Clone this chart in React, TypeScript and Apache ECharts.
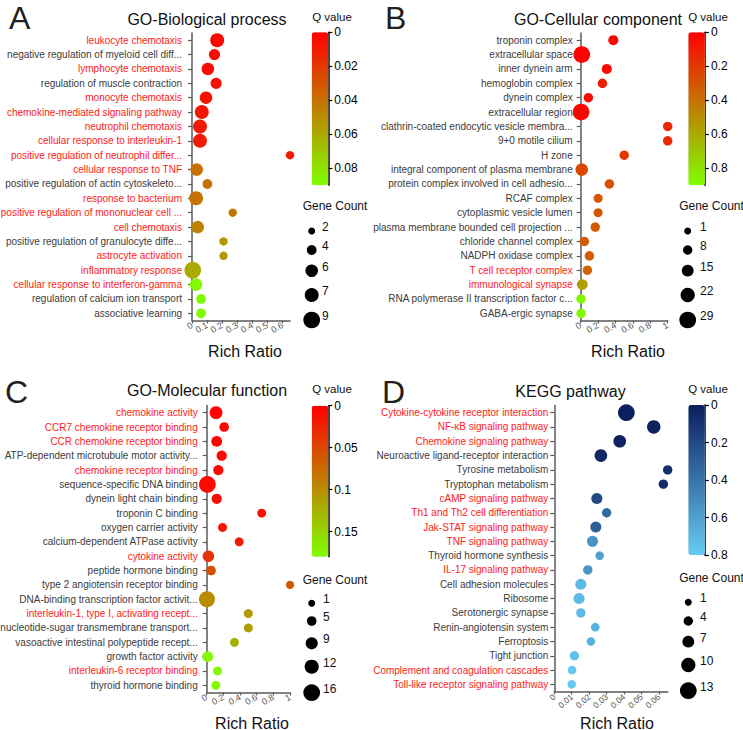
import React, { useEffect, useRef } from 'react';
import * as echarts from 'echarts';

// ---------- Panel A: GO-Biological process ----------
const termsA = [
  'leukocyte chemotaxis',
  'negative regulation of myeloid cell diff...',
  'lymphocyte chemotaxis',
  'regulation of muscle contraction',
  'monocyte chemotaxis',
  'chemokine-mediated signaling pathway',
  'neutrophil chemotaxis',
  'cellular response to interleukin-1',
  'positive regulation of neutrophil differ...',
  'cellular response to TNF',
  'positive regulation of actin cytoskeleto...',
  'response to bacterium',
  'positive regulation of mononuclear cell ...',
  'cell chemotaxis',
  'positive regulation of granulocyte diffe...',
  'astrocyte activation',
  'inflammatory response',
  'cellular response to interferon-gamma',
  'regulation of calcium ion transport',
  'associative learning',
];
const ratioA = [0.167, 0.149, 0.105, 0.16, 0.093, 0.065, 0.053, 0.053, 0.65, 0.031, 0.102, 0.027, 0.27, 0.038, 0.209, 0.209, 0.005, 0.027, 0.06, 0.06];
const qA = [0.002, 0.004, 0.005, 0.006, 0.007, 0.008, 0.009, 0.01, 0.01, 0.039, 0.04, 0.04, 0.042, 0.045, 0.055, 0.055, 0.06, 0.088, 0.089, 0.089];
const countA = [7, 5, 6, 5, 6, 7, 7, 7, 3, 6, 4, 7, 3, 6, 3, 3, 9, 6, 4, 4];
const redA = [
  'leukocyte chemotaxis', 'lymphocyte chemotaxis', 'monocyte chemotaxis', 'chemokine-mediated signaling pathway',
  'neutrophil chemotaxis', 'cellular response to interleukin-1', 'positive regulation of neutrophil differ...',
  'cellular response to TNF', 'response to bacterium', 'positive regulation of mononuclear cell ...',
  'cell chemotaxis', 'astrocyte activation', 'inflammatory response', 'cellular response to interferon-gamma',
];
const legendCountA = [2, 4, 6, 7, 9];

// ---------- Panel B: GO-Cellular component ----------
const termsB = [
  'troponin complex',
  'extracellular space',
  'inner dynein arm',
  'hemoglobin complex',
  'dynein complex',
  'extracellular region',
  'clathrin-coated endocytic vesicle membra...',
  '9+0 motile cilium',
  'H zone',
  'integral component of plasma membrane',
  'protein complex involved in cell adhesio...',
  'RCAF complex',
  'cytoplasmic vesicle lumen',
  'plasma membrane bounded cell projection ...',
  'chloride channel complex',
  'NADPH oxidase complex',
  'T cell receptor complex',
  'immunological synapse',
  'RNA polymerase II transcription factor c...',
  'GABA-ergic synapse',
];
const ratioB = [0.375, 0.012, 0.3, 0.25, 0.088, 0.004, 1.0, 1.0, 0.5, 0.012, 0.33, 0.2, 0.2, 0.167, 0.042, 0.1, 0.077, 0.019, 0.004, 0.004];
const qB = [0.02, 0.01, 0.03, 0.1, 0.05, 0.02, 0.14, 0.14, 0.2, 0.25, 0.28, 0.3, 0.3, 0.32, 0.32, 0.32, 0.35, 0.56, 0.88, 0.88];
const countB = [10, 29, 10, 8, 8, 29, 8, 8, 8, 17, 8, 7, 7, 8, 8, 8, 8, 12, 8, 8];
const redB = ['T cell receptor complex', 'immunological synapse'];
const legendCountB = [1, 8, 15, 22, 29];

// ---------- Panel C: GO-Molecular function ----------
const termsC = [
  'chemokine activity',
  'CCR7 chemokine receptor binding',
  'CCR chemokine receptor binding',
  'ATP-dependent microtubule motor activity...',
  'chemokine receptor binding',
  'sequence-specific DNA binding',
  'dynein light chain binding',
  'troponin C binding',
  'oxygen carrier activity',
  'calcium-dependent ATPase activity',
  'cytokine activity',
  'peptide hormone binding',
  'type 2 angiotensin receptor binding',
  'DNA-binding transcription factor activit...',
  'interleukin-1, type I, activating recept...',
  'nucleotide-sugar transmembrane transport...',
  'vasoactive intestinal polypeptide recept...',
  'growth factor activity',
  'interleukin-6 receptor binding',
  'thyroid hormone binding',
];
const ratioC = [0.112, 0.21, 0.12, 0.18, 0.14, 0.008, 0.12, 0.66, 0.19, 0.39, 0.02, 0.052, 1.0, 0.003, 0.5, 0.5, 0.333, 0.012, 0.13, 0.11];
const qC = [0.002, 0.004, 0.003, 0.006, 0.005, 0.008, 0.01, 0.012, 0.015, 0.02, 0.035, 0.055, 0.065, 0.1, 0.11, 0.11, 0.125, 0.175, 0.175, 0.175];
const countC = [10, 5, 7, 6, 6, 16, 6, 4, 4, 4, 8, 5, 3, 15, 4, 4, 4, 7, 4, 4];
const redC = [
  'chemokine activity', 'CCR7 chemokine receptor binding', 'CCR chemokine receptor binding',
  'chemokine receptor binding', 'cytokine activity', 'interleukin-1, type I, activating recept...',
  'interleukin-6 receptor binding',
];
const legendCountC = [1, 5, 9, 12, 16];

// ---------- Panel D: KEGG pathway ----------
const termsD = [
  'Cytokine-cytokine receptor interaction',
  'NF-κB signaling pathway',
  'Chemokine signaling pathway',
  'Neuroactive ligand-receptor interaction',
  'Tyrosine metabolism',
  'Tryptophan metabolism',
  'cAMP signaling pathway',
  'Th1 and Th2 cell differentiation',
  'Jak-STAT signaling pathway',
  'TNF signaling pathway',
  'Thyroid hormone synthesis',
  'IL-17 signaling pathway',
  'Cell adhesion molecules',
  'Ribosome',
  'Serotonergic synapse',
  'Renin-angiotensin system',
  'Ferroptosis',
  'Tight junction',
  'Complement and coagulation cascades',
  'Toll-like receptor signaling pathway',
];
const ratioD = [0.0413, 0.057, 0.0375, 0.0267, 0.065, 0.0625, 0.0244, 0.03, 0.0238, 0.0219, 0.026, 0.0192, 0.0152, 0.0142, 0.0152, 0.0235, 0.021, 0.0115, 0.0102, 0.01];
const qD = [0.01, 0.02, 0.03, 0.05, 0.08, 0.07, 0.2, 0.35, 0.3, 0.55, 0.6, 0.55, 0.72, 0.72, 0.72, 0.68, 0.68, 0.75, 0.78, 0.78];
const countD = [13, 9, 8, 8, 4, 4, 6, 4, 6, 6, 3, 4, 6, 6, 4, 3, 3, 4, 3, 3];
const redD = [
  'Cytokine-cytokine receptor interaction', 'NF-κB signaling pathway', 'Chemokine signaling pathway',
  'cAMP signaling pathway', 'Th1 and Th2 cell differentiation', 'Jak-STAT signaling pathway',
  'TNF signaling pathway', 'IL-17 signaling pathway', 'Complement and coagulation cascades',
  'Toll-like receptor signaling pathway',
];
const legendCountD = [1, 4, 7, 10, 13];

const FONT = '"Liberation Sans", Arial, sans-serif';
const RED = '#ff1a1a';
const GRAY = '#3c3c3c';
const AX = '#5a5a5a';
const DMIN = 7;
const DMAX = 16.7;

function sizeFor(c: number, legend: number[]) {
  const a = legend[0];
  const b = legend[legend.length - 1];
  return DMIN + ((c - a) / (b - a)) * (DMAX - DMIN);
}

const panels = [
  {
    letter: 'A', title: 'GO-Biological process',
    terms: termsA, ratio: ratioA, q: qA, count: countA, red: redA, legend: legendCountA,
    xMax: 0.65, xInterval: 0.1, showMax: false, xRotate: 30, xFont: 9, yMargin: 10,
    qMax: 0.09, qInterval: 0.02, qShowMax: false, colors: ['#ff0000', '#80ff00'],
    grid: [192, 33, 98, 287.5], bar: [311.7, 32.3, 16.6, 153],
    letterPos: [9, 18], titlePos: [207, 19], qPos: [332, 17], gcPos: [335, 206], rrPos: [245, 351],
    legX: 311.7, legY: [231, 250, 270.7, 295, 320], legLabelX: 322,
  },
  {
    letter: 'B', title: 'GO-Cellular component',
    terms: termsB, ratio: ratioB, q: qB, count: countB, red: redB, legend: legendCountB,
    xMax: 1, xInterval: 0.2, showMax: true, xRotate: 30, xFont: 9, yMargin: 8,
    qMax: 0.9, qInterval: 0.2, qShowMax: false, colors: ['#ff0000', '#80ff00'],
    grid: [580.7, 33, 87, 287.5], bar: [688.3, 32.3, 16.6, 153],
    letterPos: [385, 18], titlePos: [598, 19], qPos: [708, 17], gcPos: [711.5, 206], rrPos: [628, 351],
    legX: 687.7, legY: [231, 250, 270.7, 295, 320], legLabelX: 700,
  },
  {
    letter: 'C', title: 'GO-Molecular function',
    terms: termsC, ratio: ratioC, q: qC, count: countC, red: redC, legend: legendCountC,
    xMax: 1, xInterval: 0.2, showMax: true, xRotate: 30, xFont: 9, yMargin: 9,
    qMax: 0.18, qInterval: 0.05, qShowMax: false, colors: ['#ff0000', '#80ff00'],
    grid: [206.7, 405.5, 83.3, 287], bar: [311.7, 405.7, 16.6, 151],
    letterPos: [5, 392], titlePos: [207, 390.5], qPos: [332, 389], gcPos: [335, 579.5], rrPos: [252, 723],
    legX: 311.7, legY: [603.3, 621, 643.3, 666.7, 692.7], legLabelX: 323,
  },
  {
    letter: 'D', title: 'KEGG pathway',
    terms: termsD, ratio: ratioD, q: qD, count: countD, red: redD, legend: legendCountD,
    xMax: 0.065, xInterval: 0.01, showMax: false, xRotate: 42, xFont: 8.5, yMargin: 6,
    qMax: 0.8, qInterval: 0.2, qShowMax: true, colors: ['#0b1d5c', '#66ccf4'],
    grid: [554.3, 405.5, 113.4, 286], bar: [688.3, 405, 16.6, 150],
    letterPos: [382, 392], titlePos: [570.5, 391], qPos: [708, 389], gcPos: [711.5, 577.5], rrPos: [617, 723],
    legX: 688.3, legY: [602.3, 621, 641.7, 665, 690.7], legLabelX: 700,
  },
];

function buildOption() {
  const grid: any[] = [];
  const xAxis: any[] = [];
  const yAxis: any[] = [];
  const series: any[] = [];
  const visualMap: any[] = [];
  const elements: any[] = [];

  panels.forEach((p, i) => {
    const gi = grid.length;
    grid.push({ left: p.grid[0], top: p.grid[1], width: p.grid[2], height: p.grid[3], containLabel: false, outerBoundsMode: 'none' });
    xAxis.push({
      gridIndex: gi, type: 'value', min: 0, max: p.xMax, interval: p.xInterval,
      axisLine: { show: true, onZero: false, lineStyle: { color: AX, width: 1.5 } },
      axisTick: { show: true, length: 3, lineStyle: { color: AX, width: 1.2 } },
      axisLabel: {
        rotate: p.xRotate, fontSize: p.xFont, color: '#555', margin: 4, fontFamily: FONT,
        showMaxLabel: p.showMax, showMinLabel: true, hideOverlap: false, interval: 0,
      },
      splitLine: { show: false },
    });
    yAxis.push({
      gridIndex: gi, type: 'category', data: p.terms, inverse: true,
      axisLine: { show: true, lineStyle: { color: AX, width: 1.5 } },
      axisTick: { show: true, alignWithLabel: true, length: 4, lineStyle: { color: AX, width: 1.2 } },
      axisLabel: {
        interval: 0, fontSize: 10, margin: p.yMargin, fontFamily: FONT,
        color: (v: string) => (p.red.includes(v) ? RED : GRAY),
      },
      splitLine: { show: false },
    });
    series.push({
      type: 'scatter', xAxisIndex: gi, yAxisIndex: gi,
      data: p.terms.map((t, k) => [p.ratio[k], t, p.q[k], p.count[k]]),
      symbolSize: (v: any[]) => sizeFor(v[3], p.legend),
      itemStyle: { opacity: 1 },
      emphasis: { disabled: true },
      z: 3,
    });
    visualMap.push({
      type: 'continuous', seriesIndex: i, dimension: 2, min: 0, max: p.qMax,
      inverse: true, calculable: false, hoverLink: false, padding: 0,
      left: p.bar[0], top: p.bar[1], itemWidth: p.bar[2], itemHeight: p.bar[3],
      inRange: { color: p.colors },
    });

    // colour bar axis
    const ci = grid.length;
    grid.push({ left: p.bar[0] + p.bar[2], top: p.bar[1], width: 1, height: p.bar[3], containLabel: false, outerBoundsMode: 'none' });
    xAxis.push({ gridIndex: ci, type: 'value', show: false, min: 0, max: 1 });
    yAxis.push({
      gridIndex: ci, type: 'value', min: 0, max: p.qMax, interval: p.qInterval, inverse: true, position: 'left',
      axisLine: { show: true, lineStyle: { color: '#000', width: 1.5 } },
      axisTick: { show: true, inside: true, length: 4, lineStyle: { color: '#000', width: 1.2 } },
      axisLabel: { inside: true, margin: 6, fontSize: 12, color: '#000', fontFamily: FONT, showMaxLabel: p.qShowMax },
      splitLine: { show: false },
    });

    // texts
    elements.push({
      type: 'text', x: p.letterPos[0], y: p.letterPos[1],
      style: { text: p.letter, fontSize: 32, fontFamily: FONT, fill: '#231f20', align: 'left', verticalAlign: 'middle' },
    });
    elements.push({
      type: 'text', x: p.titlePos[0], y: p.titlePos[1],
      style: { text: p.title, fontSize: 16, fontFamily: FONT, fill: '#111', align: 'center', verticalAlign: 'middle' },
    });
    elements.push({
      type: 'text', x: p.qPos[0], y: p.qPos[1],
      style: { text: 'Q value', fontSize: 11.5, fontFamily: FONT, fill: '#111', align: 'center', verticalAlign: 'middle' },
    });
    elements.push({
      type: 'text', x: p.gcPos[0], y: p.gcPos[1],
      style: { text: 'Gene Count', fontSize: 12, fontFamily: FONT, fill: '#111', align: 'center', verticalAlign: 'middle' },
    });
    elements.push({
      type: 'text', x: p.rrPos[0], y: p.rrPos[1],
      style: { text: 'Rich Ratio', fontSize: 16, fontFamily: FONT, fill: '#111', align: 'center', verticalAlign: 'middle' },
    });
    p.legend.forEach((c, k) => {
      const d = sizeFor(c, p.legend);
      elements.push({ type: 'circle', shape: { cx: p.legX, cy: p.legY[k], r: d / 2 }, style: { fill: '#000' } });
      elements.push({
        type: 'text', x: p.legLabelX, y: p.legY[k] - 4,
        style: { text: String(c), fontSize: 12, fontFamily: FONT, fill: '#111', align: 'left', verticalAlign: 'middle' },
      });
    });
  });

  return {
    animation: false,
    backgroundColor: '#ffffff',
    textStyle: { fontFamily: FONT },
    grid, xAxis, yAxis, series, visualMap,
    graphic: { elements },
  };
}

export default function App() {
  const ref = useRef<HTMLDivElement>(null);
  useEffect(() => {
    document.body.style.margin = '0';
    if (!ref.current) return;
    const chart = echarts.init(ref.current, null, { renderer: 'svg' });
    chart.setOption(buildOption() as any);
    return () => chart.dispose();
  }, []);
  return <div ref={ref} style={{ width: 743, height: 730 }} />;
}
